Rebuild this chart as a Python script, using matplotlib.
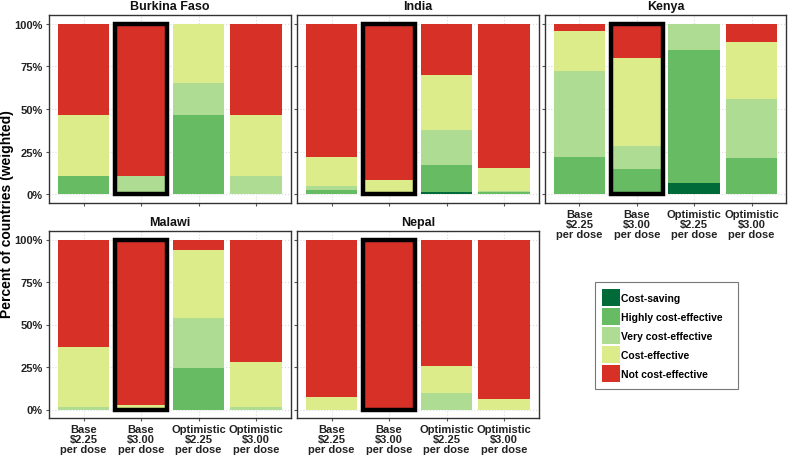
import matplotlib.pyplot as plt
from matplotlib.patches import Patch

plt.rcParams['font.family'] = ['Liberation Sans', 'DejaVu Sans']
plt.rcParams['font.weight'] = 'bold'

categories = ['Cost-saving', 'Highly cost-effective', 'Very cost-effective',
              'Cost-effective', 'Not cost-effective']
colors = ['#006B38', '#66BB63', '#AEDC92', '#DCEC8A', '#D73027']
scenarios = ['Base\n$2.25\nper dose', 'Base\n$3.00\nper dose',
             'Optimistic\n$2.25\nper dose', 'Optimistic\n$3.00\nper dose']

# percent per scenario, stacked bottom to top in category order
burkina = [[0, 10.8, 0, 35.6, 53.6],
           [0, 0, 10.8, 0, 89.2],
           [0, 46.4, 18.6, 35.0, 0],
           [0, 0, 10.8, 35.6, 53.6]]
india = [[0, 2.7, 2.3, 16.7, 78.3],
         [0, 0, 0, 8.4, 91.6],
         [1.4, 15.8, 20.8, 31.7, 30.3],
         [0, 1.2, 1.1, 13.4, 84.3]]
kenya = [[0, 21.9, 50.1, 23.7, 4.3],
         [0, 14.9, 13.3, 51.4, 20.4],
         [6.8, 77.5, 15.7, 0, 0],
         [0, 21.1, 34.5, 33.8, 10.6]]
malawi = [[0, 0, 1.4, 35.5, 63.1],
          [0, 0, 0.5, 2.4, 97.1],
          [0, 24.4, 29.3, 39.9, 6.4],
          [0, 0, 1.4, 26.7, 71.9]]
nepal = [[0, 0, 0, 7.2, 92.8],
         [0, 0, 0, 0, 100],
         [0, 0, 9.8, 15.6, 74.6],
         [0, 0, 0, 5.9, 94.1]]

countries = ['Burkina Faso', 'India', 'Kenya', 'Malawi', 'Nepal']
data = [burkina, india, kenya, malawi, nepal]
highlight = 1  # Base $3.00 per dose

W, H = 788, 456
fig = plt.figure(figsize=(W / 100, H / 100), dpi=100)

cols = [(49, 290.5), (297, 538.5), (545, 786)]
rows = [(16, 204), (232, 419)]
slots = [(0, 0), (0, 1), (0, 2), (1, 0), (1, 1)]
with_labels = {2, 3, 4}

for i, (name, vals) in enumerate(zip(countries, data)):
    r, c = slots[i]
    x0, x1 = cols[c]
    y0, y1 = rows[r]
    ax = fig.add_axes([x0 / W, 1 - y1 / H, (x1 - x0) / W, (y1 - y0) / H])
    xs = range(len(scenarios))
    bottoms = [0.0] * len(scenarios)
    for k, col in enumerate(colors):
        h = [v[k] / 100 for v in vals]
        ax.bar(xs, h, bottom=bottoms, width=0.9, color=col, linewidth=0, zorder=2)
        bottoms = [b + hh for b, hh in zip(bottoms, h)]
    ax.bar(highlight, 1.0, width=0.9, fill=False, edgecolor='black',
           linewidth=3.2, zorder=3)
    ax.set_xlim(-0.6, 3.6)
    ax.set_ylim(-0.05, 1.05)
    ax.set_yticks([0, 0.25, 0.5, 0.75, 1.0])
    ax.set_xticks(list(xs))
    ax.grid(True, color='#dddddd', linestyle=':', linewidth=0.8, zorder=0)
    ax.set_axisbelow(True)
    for s in ax.spines.values():
        s.set_color('#333333')
        s.set_linewidth(1.0)
    ax.tick_params(length=2.5, color='#555555', labelsize=8, pad=2,
                   labelcolor='#222222')
    if c == 0:
        ax.set_yticklabels(['0%', '25%', '50%', '75%', '100%'])
    else:
        ax.set_yticklabels([])
    if i in with_labels:
        ax.set_xticklabels(scenarios, fontsize=8, linespacing=1.0)
    else:
        ax.set_xticklabels([])
    ax.set_title(name, fontsize=9, fontweight='bold', pad=4, color='#111111')

fig.text(7 / W, 1 - 214 / H, 'Percent of countries (weighted)', rotation=90,
         ha='center', va='center', fontsize=10, fontweight='bold')

handles = [Patch(facecolor=col, edgecolor='none') for col in colors]
labels = [lab + '   ' for lab in categories]
leg = fig.legend(handles, labels, loc='upper left',
                 bbox_to_anchor=(595 / W, 1 - 283 / H), fontsize=7.5,
                 frameon=True, fancybox=False, edgecolor='#555555',
                 handlelength=1.75, handleheight=2.2, handletextpad=0.1,
                 labelspacing=0.15, borderpad=0.65, borderaxespad=0)
leg.get_frame().set_linewidth(0.8)

fig.savefig('out.png', dpi=100)
